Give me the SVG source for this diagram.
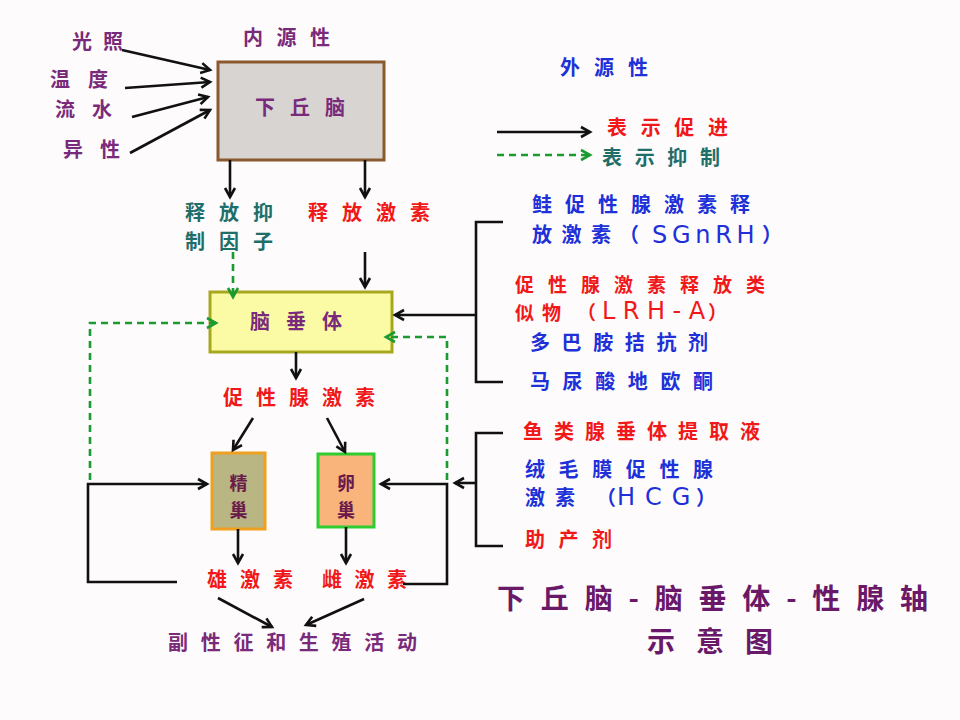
<svg xmlns="http://www.w3.org/2000/svg" width="960" height="720" viewBox="0 0 960 720">
<defs>
<marker id="ah" markerUnits="userSpaceOnUse" markerWidth="14" markerHeight="14" refX="10" refY="6" orient="auto" viewBox="0 0 14 12">
<path d="M1,1 L10,6 L1,11" fill="none" stroke="#111" stroke-width="2.6"/>
</marker>
<marker id="ahg" markerUnits="userSpaceOnUse" markerWidth="14" markerHeight="14" refX="10" refY="6" orient="auto" viewBox="0 0 14 12">
<path d="M1,1 L10,6 L1,11" fill="none" stroke="#1a9a30" stroke-width="2.6"/>
</marker>
</defs>
<style>
text{font-family:"Noto Sans CJK SC","Noto Sans",sans-serif;font-weight:bold;font-size:20px}
.pu{fill:#7a2a7a}
.rd{fill:#f01818}
.bl{fill:#2030d8}
.tl{fill:#1e6e6a}
.mr{fill:#6a1a4a;font-size:18px}
.ti{fill:#6a1868;font-size:28px}
.lat{font-family:"DejaVu Sans",sans-serif;font-weight:normal;font-size:24px}
.s{fill:none;stroke:#111;stroke-width:2.6}
.sa{fill:none;stroke:#111;stroke-width:2.6;marker-end:url(#ah)}
.da{fill:none;stroke:#1a9a30;stroke-width:2.6;stroke-dasharray:7 5;marker-end:url(#ahg)}
</style>
<rect width="960" height="720" fill="#fdfbfb"/>

<g id="inputs">
<text class="pu" x="72" y="49" textLength="51" lengthAdjust="spacing">光照</text>
<text class="pu" x="50" y="87" textLength="58" lengthAdjust="spacing">温度</text>
<text class="pu" x="55" y="117" textLength="57" lengthAdjust="spacing">流水</text>
<text class="pu" x="63" y="157" textLength="57" lengthAdjust="spacing">异性</text>
<text class="pu" x="243" y="45" textLength="87" lengthAdjust="spacing">内源性</text>
</g>

<g id="hypothalamus">
<rect x="218" y="62" width="166" height="98" fill="#d8d4d2" stroke="#8a5a2e" stroke-width="3"/>
<text class="pu" x="255" y="115" textLength="90" lengthAdjust="spacing">下丘脑</text>
</g>

<g id="release-inhibit">
<text class="tl" x="185" y="220" textLength="88" lengthAdjust="spacing">释放抑</text>
<text class="tl" x="185" y="249" textLength="88" lengthAdjust="spacing">制因子</text>
</g>
<g id="release-hormone">
<text class="rd" x="308" y="220" textLength="122" lengthAdjust="spacing">释放激素</text>
</g>

<g id="pituitary">
<rect x="210" y="292" width="182" height="60" fill="#fbfba6" stroke="#a8a820" stroke-width="3"/>
<text class="pu" x="250" y="329" textLength="92" lengthAdjust="spacing">脑垂体</text>
</g>

<g id="gth">
<text class="rd" x="223" y="405" textLength="152" lengthAdjust="spacing">促性腺激素</text>
</g>

<g id="testis">
<rect x="212" y="453" width="53" height="76" fill="#b9b684" stroke="#f0a020" stroke-width="3"/>
<text class="mr" x="238.5" y="490" text-anchor="middle">精</text>
<text class="mr" x="238.5" y="517" text-anchor="middle">巢</text>
</g>
<g id="ovary">
<rect x="318" y="454" width="56" height="73" fill="#f8b47a" stroke="#2ecc2e" stroke-width="3"/>
<text class="mr" x="346" y="490" text-anchor="middle">卵</text>
<text class="mr" x="346" y="517" text-anchor="middle">巢</text>
</g>

<g id="androgen"><text class="rd" x="207" y="587" textLength="86" lengthAdjust="spacing">雄激素</text></g>
<g id="estrogen"><text class="rd" x="322" y="587" textLength="85" lengthAdjust="spacing">雌激素</text></g>
<g id="secondary"><text class="pu" x="168" y="650" textLength="249" lengthAdjust="spacing">副性征和生殖活动</text></g>

<g id="exogenous">
<text class="bl" x="560" y="75" textLength="88" lengthAdjust="spacing">外源性</text>
</g>

<g id="legend">
<text class="rd" x="607" y="135" textLength="121" lengthAdjust="spacing">表示促进</text>
<text class="tl" x="602" y="165" textLength="118" lengthAdjust="spacing">表示抑制</text>
</g>

<g id="exo-group1">
<text class="bl" x="532" y="212" textLength="218" lengthAdjust="spacing">鲑促性腺激素释</text>
<text class="bl" y="242"><tspan x="532" letter-spacing="9.5">放激</tspan><tspan>素</tspan><tspan x="619">（</tspan><tspan class="lat" x="652" y="243" letter-spacing="4.7">SGnR</tspan><tspan class="lat">H</tspan><tspan x="762" y="242">）</tspan></text>
<text class="rd" x="515" y="292" style="font-size:19px" textLength="250" lengthAdjust="spacing">促性腺激素释放类</text>
<text class="rd" y="320" style="font-size:19px"><tspan x="515" letter-spacing="8">似</tspan><tspan>物</tspan><tspan x="577">（</tspan><tspan class="lat" x="602" y="319" letter-spacing="7.5">LRH-</tspan><tspan class="lat">A</tspan><tspan x="708" y="320">）</tspan></text>
<text class="bl" x="530" y="350" textLength="178" lengthAdjust="spacing">多巴胺拮抗剂</text>
<text class="bl" x="530" y="389" textLength="183" lengthAdjust="spacing">马尿酸地欧酮</text>
</g>

<g id="exo-group2">
<text class="rd" x="523" y="439" textLength="237" lengthAdjust="spacing">鱼类腺垂体提取液</text>
<text class="bl" x="525" y="477" textLength="188" lengthAdjust="spacing">绒毛膜促性腺</text>
<text class="bl" y="505"><tspan x="525" letter-spacing="10">激</tspan><tspan>素</tspan><tspan x="596">（</tspan><tspan class="lat" x="617" letter-spacing="10">HC</tspan><tspan class="lat">G</tspan><tspan x="696">）</tspan></text>
<text class="rd" x="525" y="547" textLength="87" lengthAdjust="spacing">助产剂</text>
</g>

<g id="title">
<text class="ti" x="497" y="609" textLength="431" lengthAdjust="spacing">下丘脑-脑垂体-性腺轴</text>
<text class="ti" x="647" y="652" textLength="126" lengthAdjust="spacing">示意图</text>
</g>

<g id="connectors">
<path class="sa" d="M122,50 L210,70"/>
<path class="sa" d="M125,88 L210,82"/>
<path class="sa" d="M132,117 L208,97"/>
<path class="sa" d="M130,153 L210,110"/>
<path class="sa" d="M230,160 V197"/>
<path class="sa" d="M365,160 V197"/>
<path class="da" d="M233,252 V297"/>
<path class="sa" d="M365,252 V287"/>
<path class="sa" d="M296,352 V378"/>
<path class="sa" d="M253,418 L233,450"/>
<path class="sa" d="M327,418 L345,452"/>
<path class="sa" d="M238,529 V563"/>
<path class="sa" d="M346,527 V563"/>
<path class="sa" d="M218,598 L272,627"/>
<path class="sa" d="M364,599 L306,625"/>
<path class="sa" d="M177,582 H88 V484 H207"/>
<path class="da" d="M90,480 V323 H216"/>
<path class="sa" d="M403,584 H447 V484 H381"/>
<path class="da" d="M447,480 V337 H386"/>
<path class="s" d="M503,222 H476 V382 H503"/>
<path class="sa" d="M476,315 H395"/>
<path class="s" d="M503,433 H476 V546 H503"/>
<path class="sa" d="M476,483 H455"/>
<path class="sa" d="M497,132 H590"/>
<path class="da" d="M497,155 H590"/>
</g>
</svg>
